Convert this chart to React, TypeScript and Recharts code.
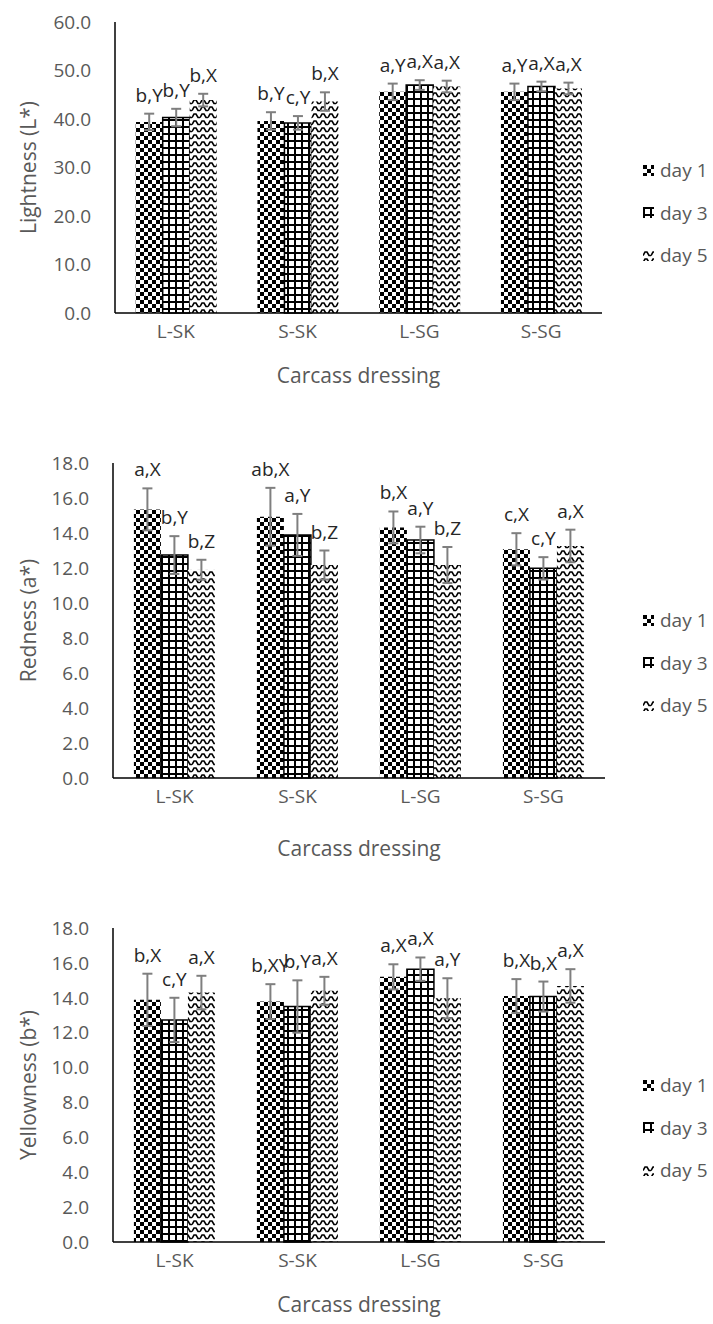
import React from 'react';
import { BarChart, Bar, XAxis, YAxis, ErrorBar, LabelList, Legend } from 'recharts';

const categories = ['L-SK', 'S-SK', 'L-SG', 'S-SG'];
const seriesNames = ['day 1', 'day 3', 'day 5'];

// Lightness (L*)
const lDay1 = [39.4, 39.6, 45.6, 45.6];
const lDay3 = [40.3, 39.2, 47.0, 46.7];
const lDay5 = [43.9, 43.6, 46.7, 46.3];
const lErr1 = [1.7, 1.8, 1.7, 1.7];
const lErr3 = [1.8, 1.4, 1.0, 1.0];
const lErr5 = [1.3, 1.9, 1.2, 1.2];
const lLab1 = ['b,Y', 'b,Y', 'a,Y', 'a,Y'];
const lLab3 = ['b,Y', 'c,Y', 'a,X', 'a,X'];
const lLab5 = ['b,X', 'b,X', 'a,X', 'a,X'];
const lTicks = [0, 10, 20, 30, 40, 50, 60];

// Redness (a*)
const aDay1 = [15.35, 14.93, 14.32, 13.07];
const aDay3 = [12.74, 13.89, 13.6, 11.98];
const aDay5 = [11.9, 12.17, 12.17, 13.26];
const aErr1 = [1.2, 1.65, 0.91, 0.92];
const aErr3 = [1.08, 1.2, 0.76, 0.64];
const aErr5 = [0.57, 0.83, 1.03, 0.93];
const aLab1 = ['a,X', 'ab,X', 'b,X', 'c,X'];
const aLab3 = ['b,Y', 'a,Y', 'a,Y', 'c,Y'];
const aLab5 = ['b,Z', 'b,Z', 'b,Z', 'a,X'];
const abTicks = [0, 2, 4, 6, 8, 10, 12, 14, 16, 18];

// Yellowness (b*)
const bDay1 = [13.88, 13.78, 15.2, 14.1];
const bDay3 = [12.73, 13.5, 15.64, 14.07];
const bDay5 = [14.3, 14.4, 13.97, 14.68];
const bErr1 = [1.5, 1.0, 0.72, 0.97];
const bErr3 = [1.27, 1.5, 0.67, 0.86];
const bErr5 = [0.96, 0.8, 1.15, 0.96];
const bLab1 = ['b,X', 'b,XY', 'a,X', 'b,X'];
const bLab3 = ['c,Y', 'b,Y', 'a,X', 'b,X'];
const bLab5 = ['a,X', 'a,X', 'a,Y', 'a,X'];

const FONT = '"Open Sans", sans-serif';
const GREY = '#595959';

function buildRows(d1, d3, d5, e1, e3, e5, l1, l3, l5) {
  return categories.map((c, i) => ({
    cat: c,
    v1: d1[i], v3: d3[i], v5: d5[i],
    e1: e1[i], e3: e3[i], e5: e5[i],
    l1: l1[i], l3: l3[i], l5: l5[i],
  }));
}

const lRows = buildRows(lDay1, lDay3, lDay5, lErr1, lErr3, lErr5, lLab1, lLab3, lLab5);
const aRows = buildRows(aDay1, aDay3, aDay5, aErr1, aErr3, aErr5, aLab1, aLab3, aLab5);
const bRows = buildRows(bDay1, bDay3, bDay5, bErr1, bErr3, bErr5, bLab1, bLab3, bLab5);

const patIds = ['pat-day1', 'pat-day3', 'pat-day5'];

function Patterns() {
  return (
    <svg width={0} height={0} style={{ position: 'absolute' }}>
      <defs>
        <pattern id="pat-day1" patternUnits="userSpaceOnUse" width={8} height={8}>
          <rect x={0} y={0} width={8} height={8} fill="#fff" />
          <rect x={0} y={0} width={4} height={4} fill="#000" />
          <rect x={4} y={4} width={4} height={4} fill="#000" />
        </pattern>
        <pattern id="pat-day3" patternUnits="userSpaceOnUse" width={7} height={7}>
          <rect x={0} y={0} width={7} height={7} fill="#fff" />
          <rect x={0} y={0} width={7} height={2} fill="#000" />
          <rect x={0} y={0} width={2} height={7} fill="#000" />
        </pattern>
        <pattern id="pat-day5" patternUnits="userSpaceOnUse" width={8} height={7}>
          <rect x={0} y={0} width={8} height={7} fill="#fff" />
          <path d="M0,5.5 L2,2 L4,2 L6,5.5 L8,5.5" stroke="#000" strokeWidth={1.6} fill="none" />
        </pattern>
      </defs>
    </svg>
  );
}

function makeLabel(rows, vKey, eKey) {
  return (props) => {
    const { x, y, width, height, index, value } = props;
    const r = rows[index];
    const ppu = height / r[vKey];
    const top = y - r[eKey] * ppu;
    return (
      <text x={x + width / 2} y={top - 19} textAnchor="middle" dominantBaseline="central"
        fontSize={19} fontFamily={FONT} fill="#262626">{value}</text>
    );
  };
}

function LegendContent() {
  return (
    <div style={{ fontFamily: FONT, fontSize: 19, color: GREY }}>
      {seriesNames.map((n, i) => (
        <div key={n} style={{ height: 42.5, display: 'flex', alignItems: 'center' }}>
          <svg width={11} height={11} style={{ marginRight: 6 }}>
            <rect x={0} y={0} width={11} height={11} fill={`url(#${patIds[i]})`} />
          </svg>
          <span>{n}</span>
        </div>
      ))}
    </div>
  );
}

function ColorChart({ top, height, plotTop, plotBottom, left, right, rows, domain, ticks, yTitle, legendTop, titleOffset }) {
  const xAxisH = 40;
  return (
    <div style={{ position: 'absolute', left: 0, top }}>
      <BarChart width={713} height={height} data={rows}
        margin={{ top: plotTop, right: 713 - right, bottom: height - plotBottom - xAxisH, left: 0 }}
        barCategoryGap="17%" barGap={0}>
        <XAxis dataKey="cat" height={xAxisH} tickLine={false} axisLine={{ stroke: '#000', strokeWidth: 1.5 }}
          tick={{ fill: GREY, fontSize: 19, fontFamily: FONT }} tickSize={0} tickMargin={12}
          label={(p) => {
            const vb = p.viewBox;
            return <text x={vb.x + vb.width / 2} y={vb.y + titleOffset} textAnchor="middle" dominantBaseline="central"
              fontSize={21} fontFamily={FONT} fill={GREY}>Carcass dressing</text>;
          }} />
        <YAxis width={left} domain={domain} ticks={ticks} interval={0} tickLine={false}
          axisLine={{ stroke: '#000', strokeWidth: 1.5 }}
          tick={{ fill: GREY, fontSize: 19, fontFamily: FONT }} tickSize={0} tickMargin={24}
          tickFormatter={(v) => Number(v).toFixed(1)}
          label={(p) => {
            const vb = p.viewBox;
            const cx = vb.x + 28;
            const cy = vb.y + vb.height / 2;
            return <text x={cx} y={cy} transform={`rotate(-90 ${cx} ${cy})`} textAnchor="middle"
              dominantBaseline="central" fontSize={21} fontFamily={FONT} fill={GREY}>{yTitle}</text>;
          }} />
        <Legend layout="vertical" align="center" verticalAlign="middle" content={<LegendContent />}
          wrapperStyle={{ position: 'absolute', left: 643, top: legendTop, width: 70 }} />
        <Bar dataKey="v1" name={seriesNames[0]} fill="url(#pat-day1)" isAnimationActive={false}>
          <ErrorBar dataKey="e1" width={5} stroke="#7f7f7f" strokeWidth={2} direction="y" />
          <LabelList dataKey="l1" content={makeLabel(rows, 'v1', 'e1')} />
        </Bar>
        <Bar dataKey="v3" name={seriesNames[1]} fill="url(#pat-day3)" stroke="#000" strokeWidth={1.5} isAnimationActive={false}>
          <ErrorBar dataKey="e3" width={5} stroke="#7f7f7f" strokeWidth={2} direction="y" />
          <LabelList dataKey="l3" content={makeLabel(rows, 'v3', 'e3')} />
        </Bar>
        <Bar dataKey="v5" name={seriesNames[2]} fill="url(#pat-day5)" isAnimationActive={false}>
          <ErrorBar dataKey="e5" width={5} stroke="#7f7f7f" strokeWidth={2} direction="y" />
          <LabelList dataKey="l5" content={makeLabel(rows, 'v5', 'e5')} />
        </Bar>
      </BarChart>
    </div>
  );
}

export default function App() {
  return (
    <div style={{ position: 'absolute', left: 0, top: 0, width: 713, height: 1324, background: '#fff' }}>
      <Patterns />
      <ColorChart top={0} height={410} plotTop={22} plotBottom={313} left={115} right={602}
        rows={lRows} domain={[0, 60]} ticks={lTicks} yTitle="Lightness (L*)" legendTop={149} titleOffset={62} />
      <ColorChart top={430} height={450} plotTop={33} plotBottom={348} left={113} right={605}
        rows={aRows} domain={[0, 18]} ticks={abTicks} yTitle="Redness (a*)" legendTop={169} titleOffset={70} />
      <ColorChart top={890} height={434} plotTop={38} plotBottom={352} left={113} right={605}
        rows={bRows} domain={[0, 18]} ticks={abTicks} yTitle="Yellowness (b*)" legendTop={174} titleOffset={62} />
    </div>
  );
}
